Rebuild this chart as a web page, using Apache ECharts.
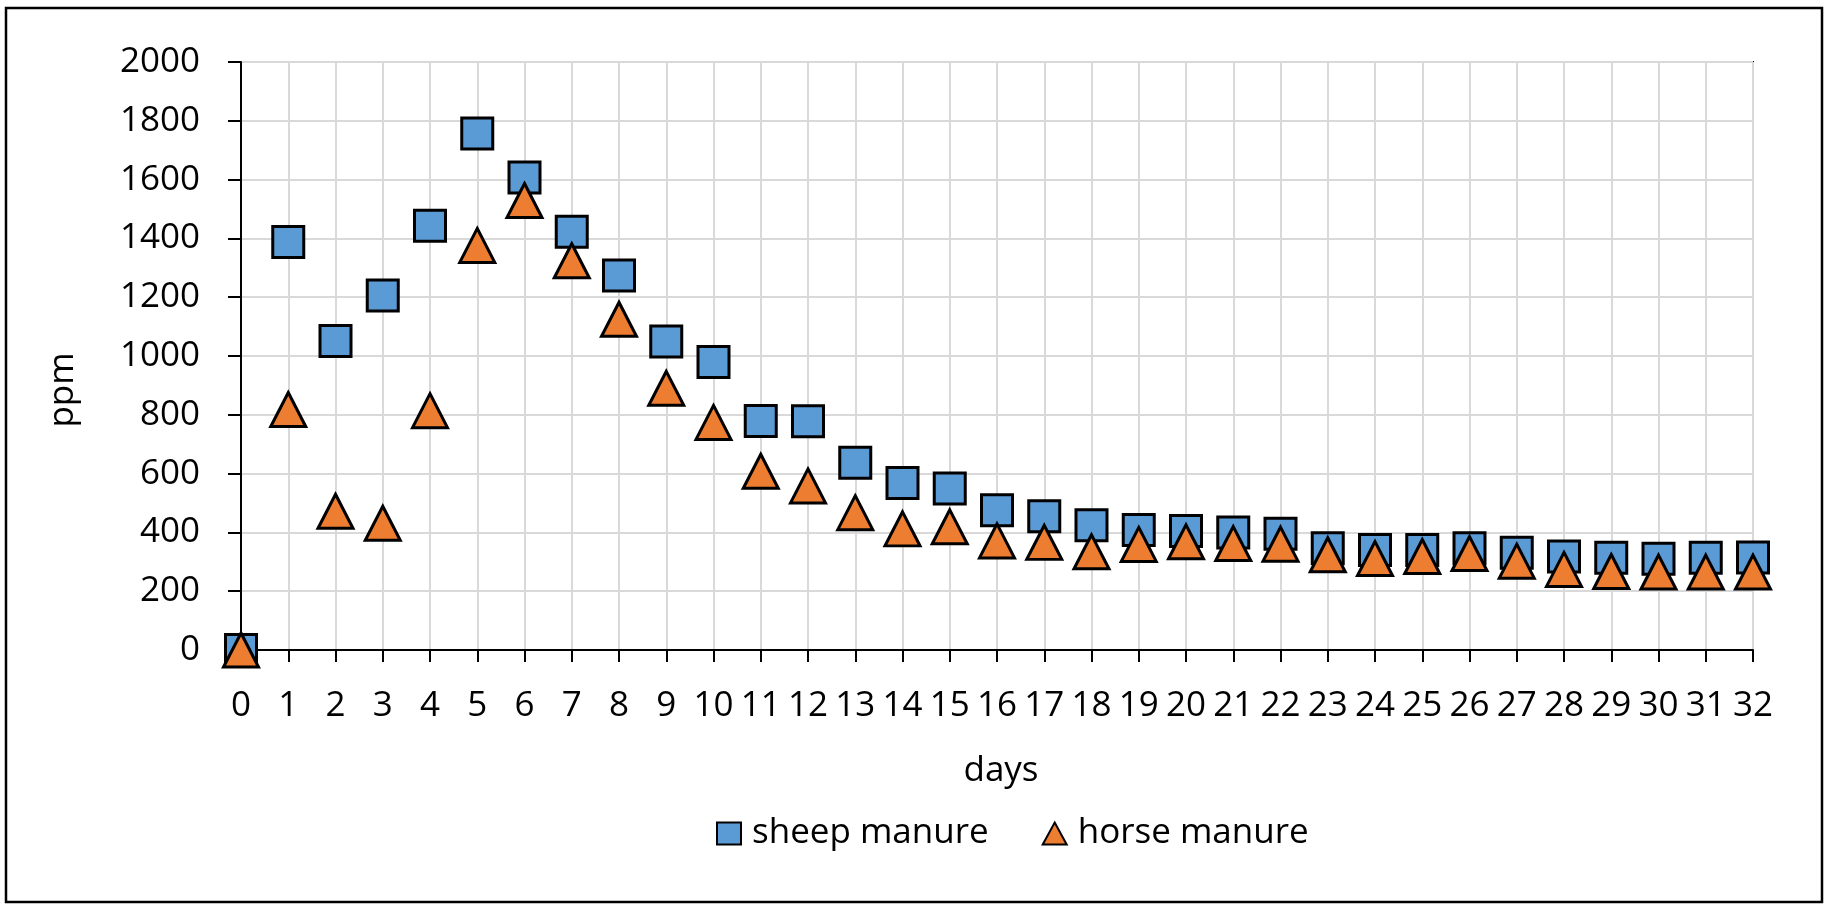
<!DOCTYPE html>
<html>
<head>
<meta charset="utf-8">
<script src="https://cdn.jsdelivr.net/npm/echarts@6/dist/echarts.min.js"></script>
<style>
html,body{margin:0;padding:0;background:#fff;}
#chart{width:1829px;height:912px;}
</style>
</head>
<body>
<div id="chart"></div>
<script>
const days = [0,1,2,3,4,5,6,7,8,9,10,11,12,13,14,15,16,17,18,19,20,21,22,23,24,25,26,27,28,29,30,31,32];
const sheepManure = [0,1388,1051,1206,1443,1757,1607,1423,1274,1049,980,779,778,637,568,549,475,455,424,408,405,400,395,346,340,340,346,331,318,314,310,314,315];
const horseManure = [0,818,472,431,814,1376,1529,1324,1125,890,774,608,558,467,412,419,371,366,334,359,368,362,360,324,311,318,328,302,274,267,265,265,265];
const seriesNames = ['sheep manure','horse manure'];
const yTicks = {min:0, max:2000, interval:200};
const xTicks = {min:0, max:32, interval:1};

const FONT = 'Open Sans';
const FS = 35;
const chart = echarts.init(document.getElementById('chart'), null, {renderer:'canvas'});
chart.setOption({
  backgroundColor:'#ffffff',
  animation:false,
  textStyle:{fontFamily:FONT},
  graphic:[{
    type:'rect', shape:{x:6,y:8,width:1816,height:894},
    style:{fill:null, stroke:'#000', lineWidth:2.5}, z:-1
  }],
  grid:{left:241, top:62, width:1512, height:588, show:true, borderColor:'#000', borderWidth:2, backgroundColor:'transparent'},
  xAxis:{
    type:'value', min:xTicks.min, max:xTicks.max, interval:xTicks.interval,
    name:'days', nameLocation:'middle', nameGap:104,
    nameTextStyle:{fontFamily:FONT, fontSize:FS, color:'#000', padding:[0,0,0,8]},
    axisLine:{show:true, onZero:false, lineStyle:{color:'#000', width:2}},
    axisTick:{show:true, inside:false, length:12, lineStyle:{color:'#000', width:2}},
    axisLabel:{fontFamily:FONT, fontSize:FS, color:'#000', margin:39, formatter:(v)=>String(v)},
    splitLine:{show:true, lineStyle:{color:'#d9d9d9', width:2}}
  },
  yAxis:{
    type:'value', min:yTicks.min, max:yTicks.max, interval:yTicks.interval,
    name:'ppm', nameLocation:'middle', nameGap:160, nameRotate:90,
    nameTextStyle:{fontFamily:FONT, fontSize:FS, color:'#000', padding:[0,68,0,0]},
    axisLine:{show:true, onZero:false, lineStyle:{color:'#000', width:2}},
    axisTick:{show:true, inside:false, length:13, lineStyle:{color:'#000', width:2}},
    axisLabel:{fontFamily:FONT, fontSize:FS, color:'#000', margin:41, formatter:(v)=>String(v)},
    splitLine:{show:true, lineStyle:{color:'#d9d9d9', width:2}}
  },
  legend:{
    left:711, top:811, itemGap:53, itemWidth:24, itemHeight:22,
    textStyle:{fontFamily:FONT, fontSize:FS, color:'#000', padding:[0,0,0,6]},
    data:[
      {name:seriesNames[0], icon:'rect'},
      {name:seriesNames[1], icon:'triangle'}
    ]
  },
  series:[
    {
      name:seriesNames[0], type:'scatter', symbol:'rect', symbolSize:31,
      data:days.map((d,i)=>[d, sheepManure[i]]),
      itemStyle:{color:'#5B9BD5', borderColor:'#000', borderWidth:3, opacity:1},
      z:2
    },
    {
      name:seriesNames[1], type:'scatter', symbol:'triangle', symbolSize:[35,34],
      data:days.map((d,i)=>[d, horseManure[i]]),
      itemStyle:{color:'#ED7D31', borderColor:'#000', borderWidth:3, opacity:1},
      z:3
    }
  ]
});
</script>
</body>
</html>
